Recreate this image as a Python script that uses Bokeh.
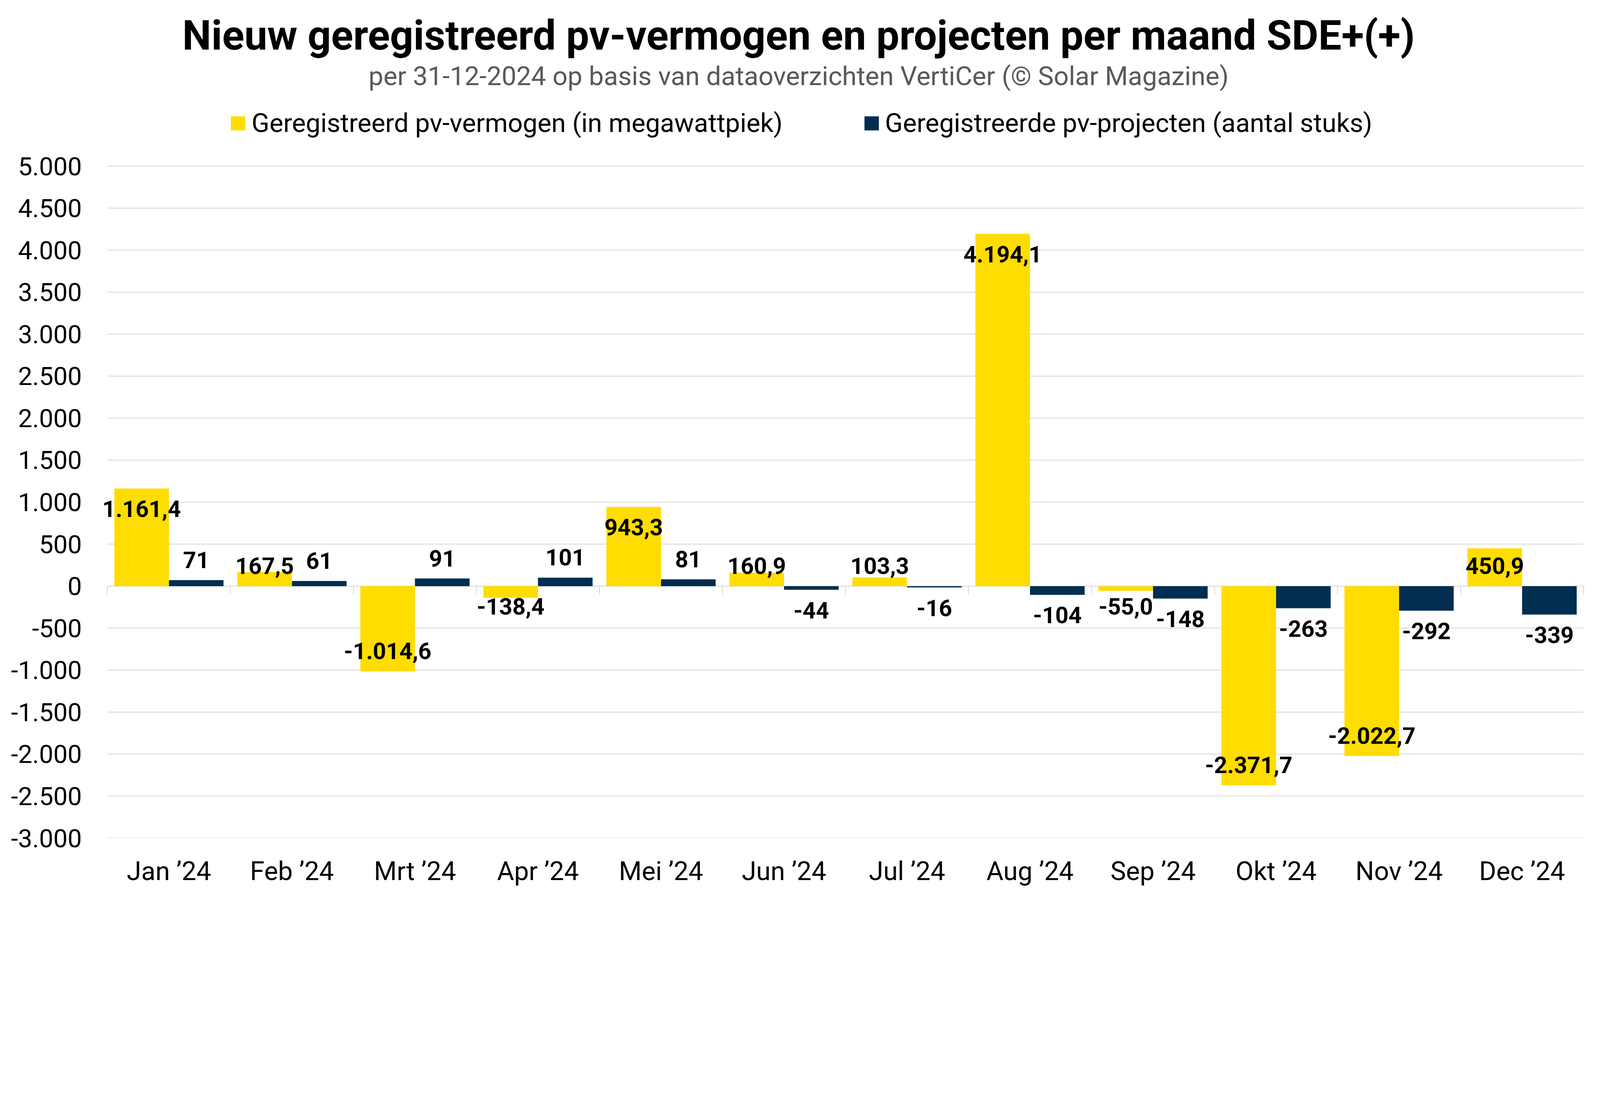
from bokeh.plotting import figure
from bokeh.models import (ColumnDataSource, FixedTicker, Range1d, FactorRange, Legend, LegendItem)
from bokeh.transform import dodge
from bokeh.core.properties import value
from bokeh.embed import file_html
from bokeh.resources import INLINE

# ---- data ----
months = ["Jan \u201924", "Feb \u201924", "Mrt \u201924", "Apr \u201924", "Mei \u201924", "Jun \u201924",
          "Jul \u201924", "Aug \u201924", "Sep \u201924", "Okt \u201924", "Nov \u201924", "Dec \u201924"]
vermogen_mwp = [1161.4, 167.5, -1014.6, -138.4, 943.3, 160.9, 103.3, 4194.1, -55.0, -2371.7, -2022.7, 450.9]
projecten = [71, 61, 91, 101, 81, -44, -16, -104, -148, -263, -292, -339]
y_ticks = [-3000, -2500, -2000, -1500, -1000, -500, 0, 500, 1000, 1500, 2000, 2500, 3000, 3500, 4000, 4500, 5000]
y_tick_labels = ["-3.000", "-2.500", "-2.000", "-1.500", "-1.000", "-500", "0", "500", "1.000", "1.500",
                 "2.000", "2.500", "3.000", "3.500", "4.000", "4.500", "5.000"]

title_text = "Nieuw geregistreerd pv-vermogen en projecten per maand SDE+(+)"
subtitle_text = "per 31-12-2024 op basis van dataoverzichten VertiCer (\u00a9 Solar Magazine)"
legend_labels = ["Geregistreerd pv-vermogen (in megawattpiek)", "Geregistreerde pv-projecten (aantal stuks)"]

YELLOW = "#FFDD00"
NAVY = "#012D50"
GRID = "#DDDDDD"
FONT = "Roboto"

# ---- geometry (CSS px) ----
n = len(months)
PAD = 0.1  # extra frame room (in categories) so edge labels are not clipped
W, H = 4088, 2286
B_LEFT, B_RIGHT, B_BOTTOM = 243, 3, 140
frame_h = H - B_BOTTOM
frame_w = W - B_LEFT - B_RIGHT
y_min, y_max_tick = -3000, 5000
px_5000 = 425  # figure-y of the 5000 gridline
upp = (y_max_tick - y_min) / (frame_h - px_5000)
y_top = y_max_tick + px_5000 * upp
off = 52 * upp


def nl_fmt(v, dec):
    s = f"{abs(v):,.{dec}f}".replace(",", "X").replace(".", ",").replace("X", ".")
    return ("-" if v < 0 else "") + s


lbl_v = [nl_fmt(v, 1) for v in vermogen_mwp]
lbl_p = [nl_fmt(v, 0) for v in projecten]
ly_v = [max(v - off, off) if v >= 0 else min(v + off, -off) for v in vermogen_mwp]
ly_p = [v + off if v >= 0 else v - off for v in projecten]

src = ColumnDataSource(dict(month=months, verm=vermogen_mwp, proj=projecten,
                            lbl_v=lbl_v, lbl_p=lbl_p, ly_v=ly_v, ly_p=ly_p,
                            zero=[0] * n, tick_end=[-22 * upp] * n))
src_end = ColumnDataSource(dict(month=[months[-1]], zero=[0], tick_end=[-22 * upp]))
grid_src = ColumnDataSource(dict(x0=[0.0] * len(y_ticks), x1=[float(n)] * len(y_ticks), y=y_ticks))

x_range = FactorRange(*months, range_padding=PAD, range_padding_units="absolute")
p = figure(x_range=x_range, y_range=Range1d(y_min, y_top), width=W, height=H,
           output_backend="svg", toolbar_location=None, title=None,
           min_border_left=B_LEFT, min_border_right=B_RIGHT, min_border_top=0,
           min_border_bottom=B_BOTTOM)
p.outline_line_color = None
p.background_fill_color = "white"
p.border_fill_color = "white"
p.xgrid.visible = False
p.ygrid.visible = False

# horizontal gridlines spanning the category area
p.segment(x0="x0", x1="x1", y0="y", y1="y", source=grid_src, line_color=GRID, line_width=2.5)

# bars
bw = 0.444
r1 = p.vbar(x=dodge("month", -bw / 2, range=p.x_range), top="verm", bottom=0, width=bw,
            source=src, fill_color=YELLOW, line_color=None)
r2 = p.vbar(x=dodge("month", bw / 2, range=p.x_range), top="proj", bottom=0, width=bw,
            source=src, fill_color=NAVY, line_color=None)

# category separator ticks below the zero line
p.segment(x0=dodge("month", -0.5, range=p.x_range), x1=dodge("month", -0.5, range=p.x_range),
          y0="zero", y1="tick_end", source=src, line_color=GRID, line_width=2.5)
p.segment(x0=dodge("month", 0.5, range=p.x_range), x1=dodge("month", 0.5, range=p.x_range),
          y0="zero", y1="tick_end", source=src_end, line_color=GRID, line_width=2.5)

# data labels
p.text(x=dodge("month", -bw / 2, range=p.x_range), y="ly_v", text="lbl_v", source=src,
       text_align="center", text_baseline="middle", text_font=value(FONT),
       text_font_style="bold", text_font_size="59px", text_color="#000000")
p.text(x=dodge("month", bw / 2, range=p.x_range), y="ly_p", text="lbl_p", source=src,
       text_align="center", text_baseline="middle", text_font=value(FONT),
       text_font_style="bold", text_font_size="59px", text_color="#000000")

# axes
p.yaxis.ticker = FixedTicker(ticks=y_ticks)
p.yaxis.major_label_overrides = {t: l for t, l in zip(y_ticks, y_tick_labels)}
p.yaxis.axis_line_color = None
p.yaxis.major_tick_line_color = None
p.yaxis.minor_tick_line_color = None
p.yaxis.major_tick_out = 0
p.yaxis.major_tick_in = 0
p.yaxis.major_label_standoff = 34
p.yaxis.major_label_text_font = FONT
p.yaxis.major_label_text_font_size = "65px"
p.yaxis.major_label_text_color = "#000000"

p.xaxis.axis_line_color = None
p.xaxis.major_tick_line_color = None
p.xaxis.minor_tick_line_color = None
p.xaxis.major_tick_out = 0
p.xaxis.major_tick_in = 0
p.xaxis.major_label_standoff = 45
p.xaxis.major_label_text_font = FONT
p.xaxis.major_label_text_font_size = "67px"
p.xaxis.major_label_text_color = "#000000"

# title / subtitle, placed in the (tall) frame above the 5000 gridline
cx = -PAD + (W / 2 - B_LEFT) / frame_w * (n + 2 * PAD)  # synthetic x of the figure centre
p.text(x=[cx], y=[y_top - 91 * upp], text=[title_text], text_align="center",
       text_baseline="middle", text_font=value(FONT), text_font_style="bold",
       text_font_size="105px", text_color="#000000")
p.text(x=[cx], y=[y_top - 194 * upp], text=[subtitle_text], text_align="center",
       text_baseline="middle", text_font=value(FONT), text_font_size="67.5px",
       text_color="#595959")

# legend
leg_h = 90
legend = Legend(items=[LegendItem(label=legend_labels[0], renderers=[r1]),
                       LegendItem(label=legend_labels[1], renderers=[r2])],
                orientation="horizontal", location=(312 + 274 - B_LEFT, frame_h - 315 - leg_h / 2),
                glyph_width=46, glyph_height=45, label_height=leg_h, label_standoff=12,
                spacing=204, padding=0, margin=0, border_line_alpha=0,
                background_fill_alpha=0, label_text_font=FONT, label_text_font_size="67px",
                label_text_color="#000000")
p.add_layout(legend, "center")

open("out.html", "w").write(file_html(p, INLINE))
